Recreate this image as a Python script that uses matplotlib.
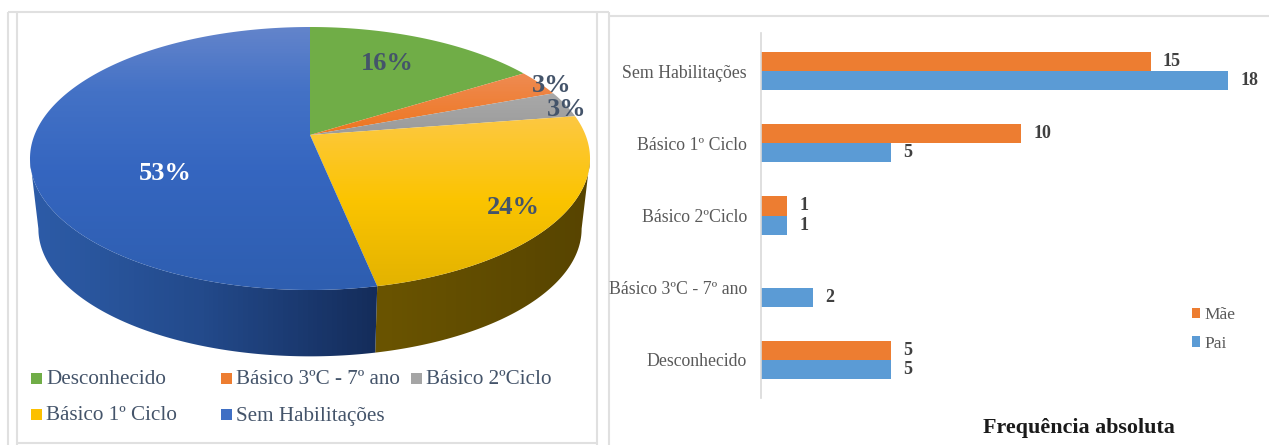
import numpy as np
import matplotlib
matplotlib.use("Agg")
import matplotlib.pyplot as plt
from matplotlib.colors import LinearSegmentedColormap
from matplotlib.patches import Polygon, Rectangle

plt.rcParams['font.family'] = ['Liberation Serif', 'DejaVu Serif']

# ---------- data ----------
pie_labels = ['Desconhecido', 'Básico 3ºC - 7º ano', 'Básico 2ºCiclo', 'Básico 1º Ciclo', 'Sem Habilitações']
pie_values = [10, 2, 2, 15, 33]

bar_categories = ['Desconhecido', 'Básico 3ºC - 7º ano', 'Básico 2ºCiclo', 'Básico 1º Ciclo', 'Sem Habilitações']
mae_values = [5, None, 1, 10, 15]
pai_values = [5, 2, 1, 5, 18]

W, H = 1269, 445
fig = plt.figure(figsize=(W / 100, H / 100), dpi=100, facecolor='white')

# ---------- canvas in pixel units for the 3D pie and frames ----------
cv = fig.add_axes([0, 0, 1, 1])
cv.set_xlim(0, W)
cv.set_ylim(H, 0)
cv.axis('off')

frame_c = '#e0e0e0'
for xs, ys in [((8, 8), (12, 445)), ((16.5, 16.5), (12, 445)), ((597, 597), (12, 445)),
               ((8, 609), (12, 12)), ((16.5, 597), (443, 443)), ((608.5, 608.5), (12, 445)),
               ((608.5, 1269), (16, 16))]:
    cv.plot(xs, ys, color=frame_c, lw=1.5, solid_capstyle='butt')

CX, CY = 310, 135
A, B, K = 275.5, 127.3, 0.1787
SCALE, DY = 0.97, 71
# the disc outline is widest at these angles; the wall is visible between them
TH_RIGHT = np.degrees(np.arccos(-K))
TH_LEFT = 360 - TH_RIGHT


def project(theta_deg, scale=1.0, dy=0.0):
    t = np.radians(theta_deg)
    u, v = np.sin(t), np.cos(t)
    w = 1 + K * v
    return CX + scale * A * u / w, CY - scale * B * v / w + dy


def gradient_fill(poly_xy, stops, vertical=True, z=2):
    cmap = LinearSegmentedColormap.from_list('g', stops)
    if vertical:
        img = np.linspace(0, 1, H)[:, None]
    else:
        img = np.linspace(0, 1, W)[None, :]
    im = cv.imshow(img, cmap=cmap, extent=(0, W, H, 0), aspect='auto', zorder=z, vmin=0, vmax=1)
    patch = Polygon(poly_xy, closed=True, transform=cv.transData, fc='none', ec='none')
    cv.add_patch(patch)
    im.set_clip_path(patch)


def ypos(y):
    return y / H


def xpos(x):
    return x / W


top_stops = [
    [(0, '#70ad47'), (1, '#70ad47')],
    [(0, '#ee8a50'), (ypos(75), '#ee8a50'), (ypos(130), '#ee7722'), (1, '#ee7722')],
    [(0, '#a8a8a8'), (ypos(95), '#a8a8a8'), (ypos(130), '#9c9c9c'), (1, '#9c9c9c')],
    [(0, '#fdc83f'), (ypos(120), '#fdc83f'), (ypos(200), '#fbc400'), (ypos(290), '#e2b200'), (1, '#e2b200')],
    [(0, '#6384cb'), (ypos(27), '#6384cb'), (ypos(90), '#4472c6'), (ypos(170), '#3566c0'), (ypos(290), '#2e5eb0'), (1, '#2e5eb0')],
]
brown = [(0, '#6a5400'), (xpos(377), '#6a5400'), (xpos(590), '#574400'), (1, '#574400')]
navy = [(0, '#2d5ca8'), (xpos(30), '#2d5ca8'), (xpos(200), '#234a8b'), (xpos(377), '#142c5a'), (1, '#142c5a')]
side_stops = [brown, brown, brown, brown, navy]

fractions = np.array(pie_values, dtype=float) / sum(pie_values)
edges = np.concatenate([[0], np.cumsum(fractions) * 360])

# visible wall
for i in range(len(pie_values)):
    a0, a1 = max(edges[i], TH_RIGHT), min(edges[i + 1], TH_LEFT)
    if a1 <= a0:
        continue
    th = np.linspace(a0, a1, 200)
    tx, ty = project(th)
    bx, by = project(th[::-1], SCALE, DY)
    poly = np.column_stack([np.r_[tx, bx], np.r_[ty, by]])
    gradient_fill(poly, side_stops[i], vertical=False, z=2)

# top faces
for i in range(len(pie_values)):
    th = np.linspace(edges[i], edges[i + 1], 200)
    tx, ty = project(th)
    poly = np.column_stack([np.r_[CX, tx], np.r_[CY, ty]])
    gradient_fill(poly, top_stops[i], vertical=True, z=3)

cv.set_xlim(0, W)
cv.set_ylim(H, 0)

label_xy = [(387, 63), (552, 85), (567, 110), (513, 207), (165, 174)]
label_col = ['#44546a', '#44546a', '#44546a', '#44546a', 'white']
for f, (x, y), c in zip(fractions, label_xy, label_col):
    cv.text(x, y, f'{round(f * 100)}%', ha='center', va='center', fontsize=19, fontweight='bold', color=c, zorder=5)

legend_xy = [(31, 378.5), (221, 378.5), (411, 378.5), (31, 414.5), (221, 414.5)]
legend_col = ['#70ad47', '#ed7d31', '#a5a5a5', '#fcc000', '#3f6fc4']
for name, (x, y), c in zip(pie_labels, legend_xy, legend_col):
    cv.add_patch(Rectangle((x, y - 5.5), 11, 11, fc=c, ec='none', zorder=4))
    cv.text(x + 15, y + 1.5, name, ha='left', va='center', fontsize=15.2, color='#44546a', zorder=5)

# ---------- bar chart ----------
L, R, T, Bt = 761, 1228.4, 33, 398
ax = fig.add_axes([L / W, 1 - Bt / H, (R - L) / W, (Bt - T) / H])
ax.patch.set_alpha(0)
y = np.arange(len(bar_categories))
h = 0.263
mae = np.array([np.nan if v is None else v for v in mae_values], dtype=float)
pai = np.array(pai_values, dtype=float)
b_mae = ax.barh(y + h / 2, mae, height=h, color='#ed7d31', label='Mãe')
b_pai = ax.barh(y - h / 2, pai, height=h, color='#5b9bd5', label='Pai')
ax.set_xlim(0, 18)
ax.set_ylim(-0.526, 4.526)
ax.set_yticks(y, bar_categories, fontsize=12.8, color='#595959')
ax.tick_params(axis='y', length=0, pad=10)
ax.set_xticks([])
for s in ['top', 'right', 'bottom']:
    ax.spines[s].set_visible(False)
ax.spines['left'].set_color('#d9d9d9')
ax.spines['left'].set_linewidth(1.2)

for yy, v in zip(y + h / 2, mae_values):
    if v is not None:
        ax.annotate(str(v), (v, yy), xytext=(9, 0), textcoords='offset points', ha='left', va='center',
                    fontsize=13, fontweight='bold', color='#404040')
for yy, v in zip(y - h / 2, pai_values):
    ax.annotate(str(v), (v, yy), xytext=(9, 0), textcoords='offset points', ha='left', va='center',
                fontsize=13, fontweight='bold', color='#404040')

leg = ax.legend(handles=[b_mae, b_pai], loc='upper left', bbox_to_anchor=(1187 / W, 1 - 302 / H),
                bbox_transform=fig.transFigure, frameon=False, fontsize=12.5, handlelength=0.46,
                handleheight=0.57, handletextpad=0.22, labelspacing=0.72, labelcolor='#595959',
                borderpad=0.3, borderaxespad=0)

cv.text(1078.5, 428, 'Frequência absoluta', ha='center', va='center', fontsize=15.8, fontweight='bold', color='#1a1a1a')

fig.savefig('out.png', dpi=100, facecolor='white')
